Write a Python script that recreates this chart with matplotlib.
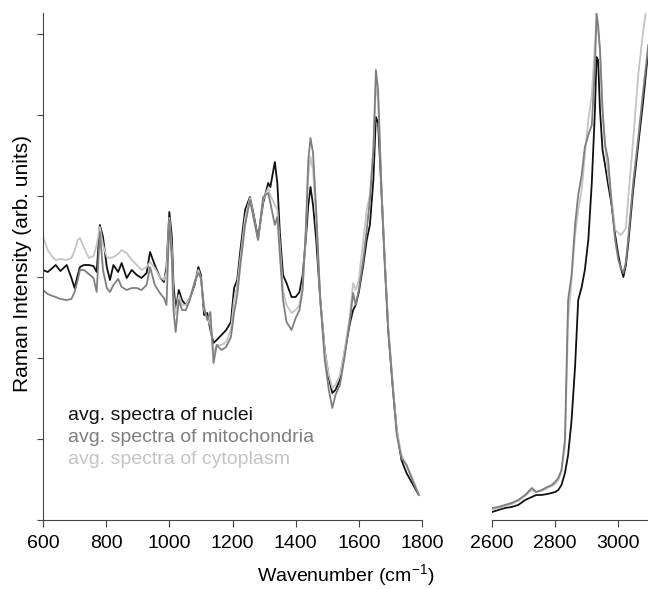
import numpy as np
import matplotlib
matplotlib.use('Agg')
import matplotlib.pyplot as plt

plt.rcParams['font.family'] = ['Liberation Sans', 'DejaVu Sans']
plt.rcParams['mathtext.fontset'] = 'custom'
plt.rcParams['mathtext.rm'] = 'Liberation Sans'

# fingerprint region (cm-1) and averaged spectra (arb. units)
wn_low = [600, 615, 630, 640, 655, 675, 690, 700, 710, 717, 730, 745, 760, 770, 780, 790,
          802, 812, 823, 838, 849, 865, 881, 897, 912, 928, 939, 954, 970, 983, 991, 1000,
          1008, 1013, 1020, 1030, 1040, 1052, 1065, 1080, 1092, 1100, 1110, 1120, 1130, 1140,
          1150, 1165, 1180, 1195, 1205, 1215, 1225, 1240, 1255, 1266, 1281, 1297, 1313, 1320,
          1334, 1342, 1350, 1360, 1371, 1387, 1400, 1412, 1422, 1432, 1440, 1447, 1455, 1465,
          1478, 1492, 1505, 1516, 1526, 1540, 1556, 1572, 1582, 1590, 1600, 1614, 1625, 1635,
          1646, 1654, 1661, 1672, 1682, 1693, 1709, 1720, 1735, 1751, 1772, 1790]

nuclei_low = [250, 248, 252, 255, 249, 255, 242, 232, 245, 253, 255, 255, 254, 248, 295, 283,
              253, 240, 255, 248, 257, 242, 250, 245, 242, 247, 268, 255, 243, 238, 253, 308,
              283, 237, 210, 230, 220, 215, 222, 235, 253, 245, 205, 207, 190, 177,
              180, 185, 190, 198, 232, 240, 270, 310, 323, 307, 282, 317, 337, 333,
              358, 337, 287, 245, 237, 223, 223, 228, 245, 280, 315, 333, 315, 280,
              220, 170, 142, 127, 130, 140, 170, 197, 210, 215, 228, 255, 280, 295,
              340, 403, 397, 327, 260, 190, 127, 90, 60, 47, 35, 25]

mito_low = [230, 226, 224, 223, 221, 220, 221, 228, 240, 250, 250, 246, 242, 228, 288, 250,
            232, 228, 235, 241, 233, 230, 232, 232, 230, 235, 253, 235, 227, 222, 215, 300,
            260, 210, 188, 220, 210, 210, 220, 238, 247, 242, 213, 200, 208, 157,
            175, 170, 173, 183, 207, 225, 255, 295, 320, 303, 280, 323, 327, 317,
            295, 303, 265, 220, 198, 190, 202, 210, 230, 290, 360, 382, 367, 310,
            220, 160, 130, 112, 125, 135, 165, 200, 227, 215, 230, 260, 290, 320,
            370, 450, 430, 327, 255, 190, 127, 85, 62, 55, 38, 25]

cyto_low = [283, 270, 263, 260, 261, 260, 262, 269, 280, 282, 272, 262, 264, 275, 293, 275,
            263, 262, 263, 266, 270, 267, 260, 255, 250, 253, 258, 252, 243, 240, 248, 302,
            270, 225, 205, 225, 215, 215, 222, 237, 250, 242, 210, 202, 195, 167,
            175, 175, 178, 190, 220, 235, 262, 302, 322, 305, 280, 320, 332, 325,
            315, 310, 275, 230, 215, 207, 210, 215, 235, 285, 345, 363, 350, 300,
            220, 170, 145, 132, 135, 145, 172, 205, 237, 230, 240, 280, 310, 325,
            370, 437, 420, 330, 260, 195, 130, 90, 65, 55, 40, 25]

# CH stretching region
wn_high = [2600, 2620, 2641, 2662, 2683, 2705, 2726, 2740, 2757, 2775, 2789, 2800, 2810, 2820,
           2831, 2841, 2852, 2863, 2873, 2884, 2894, 2905, 2916, 2926, 2931, 2936, 2942, 2950,
           2958, 2968, 2979, 2990, 3000, 3008, 3016, 3024, 3031, 3047, 3063, 3079, 3095]

nuclei_high = [8, 10, 12, 13, 15, 20, 23, 25, 25, 26, 27, 28, 30, 35,
               47, 65, 100, 153, 220, 233, 250, 280, 337, 410, 463, 460, 410, 370,
               355, 335, 315, 285, 265, 252, 243, 255, 275, 330, 375, 420, 470]

mito_high = [12, 13, 15, 17, 20, 25, 32, 28, 30, 33, 35, 38, 42, 50,
             80, 220, 245, 295, 325, 345, 373, 385, 395, 453, 507, 495, 470, 410,
             375, 360, 315, 280, 260, 252, 247, 258, 280, 337, 382, 430, 475]

cyto_high = [10, 12, 14, 16, 19, 24, 30, 28, 29, 32, 34, 36, 40, 48,
             75, 200, 240, 285, 310, 330, 365, 400, 425, 475, 500, 490, 470, 410,
             375, 345, 320, 290, 287, 285, 288, 292, 320, 380, 445, 490, 525]

labels = ['avg. spectra of nuclei', 'avg. spectra of mitochondria', 'avg. spectra of cytoplasm']
colors = ['#111111', '#7f7f7f', '#c4c4c4']

fig = plt.figure(figsize=(6.48, 5.89), dpi=100)
ax1 = fig.add_axes([43/648, 69/589, 379/648, 507/589])
ax2 = fig.add_axes([492/648, 69/589, 156/648, 507/589])

ymax = 507
axis_col = '#444444'

for y_lo, y_hi, c in [(nuclei_low, nuclei_high, colors[0]),
                      (cyto_low, cyto_high, colors[2]),
                      (mito_low, mito_high, colors[1])]:
    ax1.plot(wn_low, y_lo, color=c, lw=1.3)
    ax2.plot(wn_high, y_hi, color=c, lw=1.3)

ax1.set_xlim(600, 1800)
ax2.set_xlim(2600, 3094)
for ax in (ax1, ax2):
    ax.set_ylim(0, ymax)
    ax.spines['top'].set_visible(False)
    ax.spines['right'].set_visible(False)
    ax.spines['bottom'].set_color(axis_col)
    ax.spines['left'].set_color(axis_col)
    ax.tick_params(direction='out', length=5, color=axis_col, labelsize=14, pad=6)

ax1.set_xticks(np.arange(600, 1801, 200))
ax1.set_yticks(np.arange(0, 500, 81))
ax1.set_yticklabels([])
ax1.tick_params(axis='y', length=4)

ax2.set_xticks([2600, 2800, 3000])
ax2.spines['left'].set_visible(False)
ax2.set_yticks([])

fig.text(23/648, (589 - 263)/589, 'Raman Intensity (arb. units)', fontsize=15,
         rotation=90, ha='center', va='center')
fig.text(346/648, 7/589, 'Wavenumber (cm$^{-1}$)', fontsize=14, ha='center', va='baseline')

for i, (lab, c) in enumerate(zip(labels, colors)):
    fig.text(68/648, (589 - 415 - 22.5*i)/589, lab, color=c, fontsize=14, va='center')

fig.savefig('out.png', dpi=100)
